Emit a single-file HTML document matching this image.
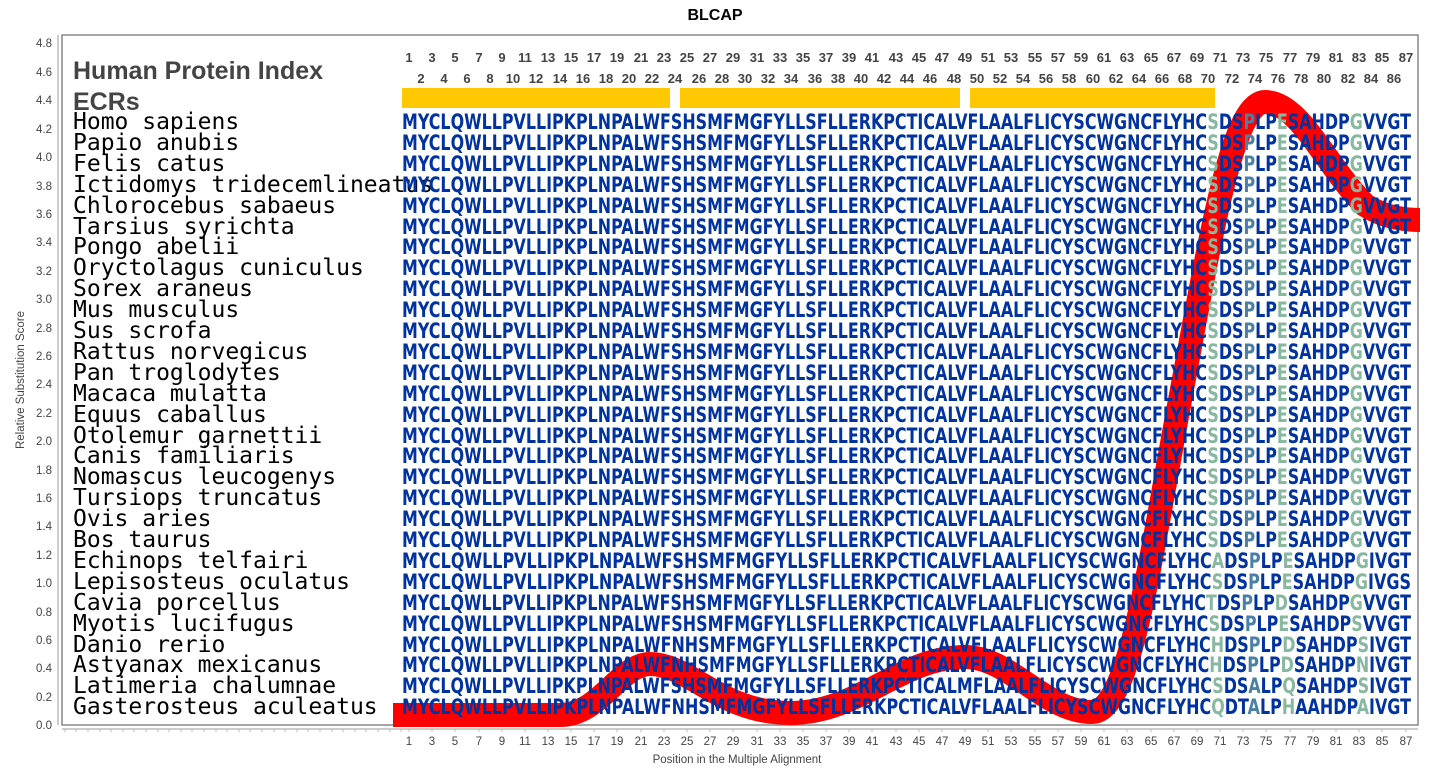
<!DOCTYPE html>
<html><head><meta charset="utf-8"><style>
html,body{margin:0;padding:0;background:#fff}
svg{display:block}
.n{font-family:"Liberation Sans",sans-serif;font-weight:bold;font-size:13px;fill:#444}
.sp{font-family:"DejaVu Sans Mono","Liberation Mono",monospace;font-size:23px;fill:#000}
.sq{font-family:"DejaVu Sans","Liberation Sans",sans-serif;font-weight:bold;font-size:21px;fill:#0033a0}
.l{fill:#88b8a0}.m{fill:#4a80a6}
.ax{font-family:"Liberation Sans",sans-serif;font-size:11.5px;fill:#444}
</style></head><body>
<svg width="1430" height="775" viewBox="0 0 1430 775">
<text x="715" y="20" text-anchor="middle" font-family="Liberation Sans,sans-serif" font-weight="bold" font-size="16" fill="#000">BLCAP</text>
<rect x="62" y="35" width="1356" height="690" fill="#fff" stroke="#888" stroke-width="1.5"/>
<line x1="58" y1="35" x2="58" y2="725" stroke="#999"/>
<g class="ax" text-anchor="end">
<text x="52" y="729">0.0</text><text x="52" y="701">0.2</text><text x="52" y="672">0.4</text><text x="52" y="644">0.6</text><text x="52" y="616">0.8</text><text x="52" y="587">1.0</text><text x="52" y="559">1.2</text><text x="52" y="530">1.4</text><text x="52" y="502">1.6</text><text x="52" y="474">1.8</text><text x="52" y="445">2.0</text><text x="52" y="417">2.2</text><text x="52" y="388">2.4</text><text x="52" y="360">2.6</text><text x="52" y="332">2.8</text><text x="52" y="303">3.0</text><text x="52" y="275">3.2</text><text x="52" y="246">3.4</text><text x="52" y="218">3.6</text><text x="52" y="190">3.8</text><text x="52" y="161">4.0</text><text x="52" y="133">4.2</text><text x="52" y="104">4.4</text><text x="52" y="76">4.6</text><text x="52" y="47">4.8</text>
</g>
<text transform="translate(24,380) rotate(-90)" text-anchor="middle" class="ax" font-size="12.5">Relative Substitution Score</text>
<line x1="62" y1="729" x2="1418" y2="729" stroke="#999"/>
<path d="M65,729v3M76,729v3M88,729v3M100,729v3M111,729v3M123,729v3M134,729v3M146,729v3M158,729v3M169,729v3M181,729v3M192,729v3M204,729v3M216,729v3M227,729v3M239,729v3M250,729v3M262,729v3M274,729v3M285,729v3M297,729v3M308,729v3M320,729v3M332,729v3M343,729v3M355,729v3M366,729v3M378,729v3M390,729v3M401,729v3M409,729v3M432,729v3M455,729v3M479,729v3M502,729v3M525,729v3M548,729v3M571,729v3M594,729v3M617,729v3M641,729v3M664,729v3M687,729v3M710,729v3M733,729v3M757,729v3M780,729v3M803,729v3M826,729v3M849,729v3M872,729v3M896,729v3M919,729v3M942,729v3M965,729v3M988,729v3M1011,729v3M1035,729v3M1058,729v3M1081,729v3M1104,729v3M1127,729v3M1151,729v3M1174,729v3M1197,729v3M1220,729v3M1243,729v3M1266,729v3M1290,729v3M1313,729v3M1336,729v3M1359,729v3M1382,729v3M1406,729v3" stroke="#bbb"/>
<g class="ax" text-anchor="middle">
<text x="409" y="745">1</text><text x="432" y="745">3</text><text x="455" y="745">5</text><text x="479" y="745">7</text><text x="502" y="745">9</text><text x="525" y="745">11</text><text x="548" y="745">13</text><text x="571" y="745">15</text><text x="594" y="745">17</text><text x="617" y="745">19</text><text x="641" y="745">21</text><text x="664" y="745">23</text><text x="687" y="745">25</text><text x="710" y="745">27</text><text x="733" y="745">29</text><text x="757" y="745">31</text><text x="780" y="745">33</text><text x="803" y="745">35</text><text x="826" y="745">37</text><text x="849" y="745">39</text><text x="872" y="745">41</text><text x="896" y="745">43</text><text x="919" y="745">45</text><text x="942" y="745">47</text><text x="965" y="745">49</text><text x="988" y="745">51</text><text x="1011" y="745">53</text><text x="1035" y="745">55</text><text x="1058" y="745">57</text><text x="1081" y="745">59</text><text x="1104" y="745">61</text><text x="1127" y="745">63</text><text x="1151" y="745">65</text><text x="1174" y="745">67</text><text x="1197" y="745">69</text><text x="1220" y="745">71</text><text x="1243" y="745">73</text><text x="1266" y="745">75</text><text x="1290" y="745">77</text><text x="1313" y="745">79</text><text x="1336" y="745">81</text><text x="1359" y="745">83</text><text x="1382" y="745">85</text><text x="1406" y="745">87</text>
</g>
<text x="737" y="763" text-anchor="middle" class="ax" font-size="13.5">Position in the Multiple Alignment</text>
<g class="n" text-anchor="middle">
<text x="409" y="62">1</text><text x="432" y="62">3</text><text x="455" y="62">5</text><text x="479" y="62">7</text><text x="502" y="62">9</text><text x="525" y="62">11</text><text x="548" y="62">13</text><text x="571" y="62">15</text><text x="594" y="62">17</text><text x="617" y="62">19</text><text x="641" y="62">21</text><text x="664" y="62">23</text><text x="687" y="62">25</text><text x="710" y="62">27</text><text x="733" y="62">29</text><text x="757" y="62">31</text><text x="780" y="62">33</text><text x="803" y="62">35</text><text x="826" y="62">37</text><text x="849" y="62">39</text><text x="872" y="62">41</text><text x="896" y="62">43</text><text x="919" y="62">45</text><text x="942" y="62">47</text><text x="965" y="62">49</text><text x="988" y="62">51</text><text x="1011" y="62">53</text><text x="1035" y="62">55</text><text x="1058" y="62">57</text><text x="1081" y="62">59</text><text x="1104" y="62">61</text><text x="1127" y="62">63</text><text x="1151" y="62">65</text><text x="1174" y="62">67</text><text x="1197" y="62">69</text><text x="1220" y="62">71</text><text x="1243" y="62">73</text><text x="1266" y="62">75</text><text x="1290" y="62">77</text><text x="1313" y="62">79</text><text x="1336" y="62">81</text><text x="1359" y="62">83</text><text x="1382" y="62">85</text><text x="1406" y="62">87</text>
<text x="421" y="83">2</text><text x="444" y="83">4</text><text x="467" y="83">6</text><text x="490" y="83">8</text><text x="513" y="83">10</text><text x="536" y="83">12</text><text x="560" y="83">14</text><text x="583" y="83">16</text><text x="606" y="83">18</text><text x="629" y="83">20</text><text x="652" y="83">22</text><text x="675" y="83">24</text><text x="699" y="83">26</text><text x="722" y="83">28</text><text x="745" y="83">30</text><text x="768" y="83">32</text><text x="791" y="83">34</text><text x="815" y="83">36</text><text x="838" y="83">38</text><text x="861" y="83">40</text><text x="884" y="83">42</text><text x="907" y="83">44</text><text x="930" y="83">46</text><text x="954" y="83">48</text><text x="977" y="83">50</text><text x="1000" y="83">52</text><text x="1023" y="83">54</text><text x="1046" y="83">56</text><text x="1069" y="83">58</text><text x="1093" y="83">60</text><text x="1116" y="83">62</text><text x="1139" y="83">64</text><text x="1162" y="83">66</text><text x="1185" y="83">68</text><text x="1208" y="83">70</text><text x="1232" y="83">72</text><text x="1255" y="83">74</text><text x="1278" y="83">76</text><text x="1301" y="83">78</text><text x="1324" y="83">80</text><text x="1348" y="83">82</text><text x="1371" y="83">84</text><text x="1394" y="83">86</text>
</g>
<rect x="402" y="88" width="268" height="20" fill="#ffc800"/>
<rect x="680" y="88" width="280" height="20" fill="#ffc800"/>
<rect x="970" y="88" width="245" height="20" fill="#ffc800"/>
<text x="73" y="79" font-family="Liberation Sans,sans-serif" font-weight="bold" font-size="25" fill="#444">Human Protein Index</text>
<text x="73" y="110" font-family="Liberation Sans,sans-serif" font-weight="bold" font-size="25" fill="#444">ECRs</text>
<path d="M393,715 L560,715 C600,715 620,664 650,664 C690,664 720,713 790,713 C860,713 900,657 965,657 C1010,657 1045,712 1092,712 C1130,712 1150,560 1180,400 C1210,240 1232,102 1265,102 C1300,102 1325,165 1365,205 C1385,218 1405,220 1420,220" fill="none" stroke="#ff0000" stroke-width="24"/>
<g class="sp">
<text x="73" y="129">Homo sapiens</text><text x="73" y="150">Papio anubis</text><text x="73" y="171">Felis catus</text><text x="73" y="192">Ictidomys tridecemlineatus</text><text x="73" y="213">Chlorocebus sabaeus</text><text x="73" y="234">Tarsius syrichta</text><text x="73" y="254">Pongo abelii</text><text x="73" y="275">Oryctolagus cuniculus</text><text x="73" y="296">Sorex araneus</text><text x="73" y="317">Mus musculus</text><text x="73" y="338">Sus scrofa</text><text x="73" y="359">Rattus norvegicus</text><text x="73" y="380">Pan troglodytes</text><text x="73" y="401">Macaca mulatta</text><text x="73" y="422">Equus caballus</text><text x="73" y="443">Otolemur garnettii</text><text x="73" y="463">Canis familiaris</text><text x="73" y="484">Nomascus leucogenys</text><text x="73" y="505">Tursiops truncatus</text><text x="73" y="526">Ovis aries</text><text x="73" y="547">Bos taurus</text><text x="73" y="568">Echinops telfairi</text><text x="73" y="589">Lepisosteus oculatus</text><text x="73" y="610">Cavia porcellus</text><text x="73" y="631">Myotis lucifugus</text><text x="73" y="652">Danio rerio</text><text x="73" y="672">Astyanax mexicanus</text><text x="73" y="693">Latimeria chalumnae</text><text x="73" y="714">Gasterosteus aculeatus</text>
</g>
<g class="sq">
<text x="402" y="129" textLength="1009" lengthAdjust="spacingAndGlyphs">MYCLQWLLPVLLIPKPLNPALWFSHSMFMGFYLLSFLLERKPCTICALVFLAALFLICYSCWGNCFLYHC<tspan class="l">S</tspan>DS<tspan class="m">P</tspan>LP<tspan class="l">E</tspan>SAHDP<tspan class="l">G</tspan>VVGT</text>
<text x="402" y="150" textLength="1009" lengthAdjust="spacingAndGlyphs">MYCLQWLLPVLLIPKPLNPALWFSHSMFMGFYLLSFLLERKPCTICALVFLAALFLICYSCWGNCFLYHC<tspan class="l">S</tspan>DS<tspan class="m">P</tspan>LP<tspan class="l">E</tspan>SAHDP<tspan class="l">G</tspan>VVGT</text>
<text x="402" y="171" textLength="1009" lengthAdjust="spacingAndGlyphs">MYCLQWLLPVLLIPKPLNPALWFSHSMFMGFYLLSFLLERKPCTICALVFLAALFLICYSCWGNCFLYHC<tspan class="l">S</tspan>DS<tspan class="m">P</tspan>LP<tspan class="l">E</tspan>SAHDP<tspan class="l">G</tspan>VVGT</text>
<text x="402" y="192" textLength="1009" lengthAdjust="spacingAndGlyphs">MYCLQWLLPVLLIPKPLNPALWFSHSMFMGFYLLSFLLERKPCTICALVFLAALFLICYSCWGNCFLYHC<tspan class="l">S</tspan>DS<tspan class="m">P</tspan>LP<tspan class="l">E</tspan>SAHDP<tspan class="l">G</tspan>VVGT</text>
<text x="402" y="213" textLength="1009" lengthAdjust="spacingAndGlyphs">MYCLQWLLPVLLIPKPLNPALWFSHSMFMGFYLLSFLLERKPCTICALVFLAALFLICYSCWGNCFLYHC<tspan class="l">S</tspan>DS<tspan class="m">P</tspan>LP<tspan class="l">E</tspan>SAHDP<tspan class="l">G</tspan>VVGT</text>
<text x="402" y="234" textLength="1009" lengthAdjust="spacingAndGlyphs">MYCLQWLLPVLLIPKPLNPALWFSHSMFMGFYLLSFLLERKPCTICALVFLAALFLICYSCWGNCFLYHC<tspan class="l">S</tspan>DS<tspan class="m">P</tspan>LP<tspan class="l">E</tspan>SAHDP<tspan class="l">G</tspan>VVGT</text>
<text x="402" y="254" textLength="1009" lengthAdjust="spacingAndGlyphs">MYCLQWLLPVLLIPKPLNPALWFSHSMFMGFYLLSFLLERKPCTICALVFLAALFLICYSCWGNCFLYHC<tspan class="l">S</tspan>DS<tspan class="m">P</tspan>LP<tspan class="l">E</tspan>SAHDP<tspan class="l">G</tspan>VVGT</text>
<text x="402" y="275" textLength="1009" lengthAdjust="spacingAndGlyphs">MYCLQWLLPVLLIPKPLNPALWFSHSMFMGFYLLSFLLERKPCTICALVFLAALFLICYSCWGNCFLYHC<tspan class="l">S</tspan>DS<tspan class="m">P</tspan>LP<tspan class="l">E</tspan>SAHDP<tspan class="l">G</tspan>VVGT</text>
<text x="402" y="296" textLength="1009" lengthAdjust="spacingAndGlyphs">MYCLQWLLPVLLIPKPLNPALWFSHSMFMGFYLLSFLLERKPCTICALVFLAALFLICYSCWGNCFLYHC<tspan class="l">S</tspan>DS<tspan class="m">P</tspan>LP<tspan class="l">E</tspan>SAHDP<tspan class="l">G</tspan>VVGT</text>
<text x="402" y="317" textLength="1009" lengthAdjust="spacingAndGlyphs">MYCLQWLLPVLLIPKPLNPALWFSHSMFMGFYLLSFLLERKPCTICALVFLAALFLICYSCWGNCFLYHC<tspan class="l">S</tspan>DS<tspan class="m">P</tspan>LP<tspan class="l">E</tspan>SAHDP<tspan class="l">G</tspan>VVGT</text>
<text x="402" y="338" textLength="1009" lengthAdjust="spacingAndGlyphs">MYCLQWLLPVLLIPKPLNPALWFSHSMFMGFYLLSFLLERKPCTICALVFLAALFLICYSCWGNCFLYHC<tspan class="l">S</tspan>DS<tspan class="m">P</tspan>LP<tspan class="l">E</tspan>SAHDP<tspan class="l">G</tspan>VVGT</text>
<text x="402" y="359" textLength="1009" lengthAdjust="spacingAndGlyphs">MYCLQWLLPVLLIPKPLNPALWFSHSMFMGFYLLSFLLERKPCTICALVFLAALFLICYSCWGNCFLYHC<tspan class="l">S</tspan>DS<tspan class="m">P</tspan>LP<tspan class="l">E</tspan>SAHDP<tspan class="l">G</tspan>VVGT</text>
<text x="402" y="380" textLength="1009" lengthAdjust="spacingAndGlyphs">MYCLQWLLPVLLIPKPLNPALWFSHSMFMGFYLLSFLLERKPCTICALVFLAALFLICYSCWGNCFLYHC<tspan class="l">S</tspan>DS<tspan class="m">P</tspan>LP<tspan class="l">E</tspan>SAHDP<tspan class="l">G</tspan>VVGT</text>
<text x="402" y="401" textLength="1009" lengthAdjust="spacingAndGlyphs">MYCLQWLLPVLLIPKPLNPALWFSHSMFMGFYLLSFLLERKPCTICALVFLAALFLICYSCWGNCFLYHC<tspan class="l">S</tspan>DS<tspan class="m">P</tspan>LP<tspan class="l">E</tspan>SAHDP<tspan class="l">G</tspan>VVGT</text>
<text x="402" y="422" textLength="1009" lengthAdjust="spacingAndGlyphs">MYCLQWLLPVLLIPKPLNPALWFSHSMFMGFYLLSFLLERKPCTICALVFLAALFLICYSCWGNCFLYHC<tspan class="l">S</tspan>DS<tspan class="m">P</tspan>LP<tspan class="l">E</tspan>SAHDP<tspan class="l">G</tspan>VVGT</text>
<text x="402" y="443" textLength="1009" lengthAdjust="spacingAndGlyphs">MYCLQWLLPVLLIPKPLNPALWFSHSMFMGFYLLSFLLERKPCTICALVFLAALFLICYSCWGNCFLYHC<tspan class="l">S</tspan>DS<tspan class="m">P</tspan>LP<tspan class="l">E</tspan>SAHDP<tspan class="l">G</tspan>VVGT</text>
<text x="402" y="463" textLength="1009" lengthAdjust="spacingAndGlyphs">MYCLQWLLPVLLIPKPLNPALWFSHSMFMGFYLLSFLLERKPCTICALVFLAALFLICYSCWGNCFLYHC<tspan class="l">S</tspan>DS<tspan class="m">P</tspan>LP<tspan class="l">E</tspan>SAHDP<tspan class="l">G</tspan>VVGT</text>
<text x="402" y="484" textLength="1009" lengthAdjust="spacingAndGlyphs">MYCLQWLLPVLLIPKPLNPALWFSHSMFMGFYLLSFLLERKPCTICALVFLAALFLICYSCWGNCFLYHC<tspan class="l">S</tspan>DS<tspan class="m">P</tspan>LP<tspan class="l">E</tspan>SAHDP<tspan class="l">G</tspan>VVGT</text>
<text x="402" y="505" textLength="1009" lengthAdjust="spacingAndGlyphs">MYCLQWLLPVLLIPKPLNPALWFSHSMFMGFYLLSFLLERKPCTICALVFLAALFLICYSCWGNCFLYHC<tspan class="l">S</tspan>DS<tspan class="m">P</tspan>LP<tspan class="l">E</tspan>SAHDP<tspan class="l">G</tspan>VVGT</text>
<text x="402" y="526" textLength="1009" lengthAdjust="spacingAndGlyphs">MYCLQWLLPVLLIPKPLNPALWFSHSMFMGFYLLSFLLERKPCTICALVFLAALFLICYSCWGNCFLYHC<tspan class="l">S</tspan>DS<tspan class="m">P</tspan>LP<tspan class="l">E</tspan>SAHDP<tspan class="l">G</tspan>VVGT</text>
<text x="402" y="547" textLength="1009" lengthAdjust="spacingAndGlyphs">MYCLQWLLPVLLIPKPLNPALWFSHSMFMGFYLLSFLLERKPCTICALVFLAALFLICYSCWGNCFLYHC<tspan class="l">S</tspan>DS<tspan class="m">P</tspan>LP<tspan class="l">E</tspan>SAHDP<tspan class="l">G</tspan>VVGT</text>
<text x="402" y="568" textLength="1009" lengthAdjust="spacingAndGlyphs">MYCLQWLLPVLLIPKPLNPALWFSHSMFMGFYLLSFLLERKPCTICALVFLAALFLICYSCWGNCFLYHC<tspan class="l">A</tspan>DS<tspan class="m">P</tspan>LP<tspan class="l">E</tspan>SAHDP<tspan class="l">G</tspan>IVGT</text>
<text x="402" y="589" textLength="1009" lengthAdjust="spacingAndGlyphs">MYCLQWLLPVLLIPKPLNPALWFSHSMFMGFYLLSFLLERKPCTICALVFLAALFLICYSCWGNCFLYHC<tspan class="l">S</tspan>DS<tspan class="m">P</tspan>LP<tspan class="l">E</tspan>SAHDP<tspan class="l">G</tspan>IVGS</text>
<text x="402" y="610" textLength="1009" lengthAdjust="spacingAndGlyphs">MYCLQWLLPVLLIPKPLNPALWFSHSMFMGFYLLSFLLERKPCTICALVFLAALFLICYSCWGNCFLYHC<tspan class="l">T</tspan>DS<tspan class="m">P</tspan>LP<tspan class="l">D</tspan>SAHDP<tspan class="l">G</tspan>VVGT</text>
<text x="402" y="631" textLength="1009" lengthAdjust="spacingAndGlyphs">MYCLQWLLPVLLIPKPLNPALWFSHSMFMGFYLLSFLLERKPCTICALVFLAALFLICYSCWGNCFLYHC<tspan class="l">S</tspan>DS<tspan class="m">P</tspan>LP<tspan class="l">E</tspan>SAHDP<tspan class="l">S</tspan>VVGT</text>
<text x="402" y="652" textLength="1009" lengthAdjust="spacingAndGlyphs">MYCLQWLLPVLLIPKPLNPALWFNHSMFMGFYLLSFLLERKPCTICALVFLAALFLICYSCWGNCFLYHC<tspan class="l">H</tspan>DS<tspan class="m">P</tspan>LP<tspan class="l">D</tspan>SAHDP<tspan class="l">S</tspan>IVGT</text>
<text x="402" y="672" textLength="1009" lengthAdjust="spacingAndGlyphs">MYCLQWLLPVLLIPKPLNPALWFNHSMFMGFYLLSFLLERKPCTICALVFLAALFLICYSCWGNCFLYHC<tspan class="l">H</tspan>DS<tspan class="m">P</tspan>LP<tspan class="l">D</tspan>SAHDP<tspan class="l">N</tspan>IVGT</text>
<text x="402" y="693" textLength="1009" lengthAdjust="spacingAndGlyphs">MYCLQWLLPVLLIPKPLNPALWFSHSMFMGFYLLSFLLERKPCTICALMFLAALFLICYSCWGNCFLYHC<tspan class="l">S</tspan>DS<tspan class="m">A</tspan>LP<tspan class="l">Q</tspan>SAHDP<tspan class="l">S</tspan>IVGT</text>
<text x="402" y="714" textLength="1009" lengthAdjust="spacingAndGlyphs">MYCLQWLLPVLLIPKPLNPALWFNHSMFMGFYLLSFLLERKPCTICALVFLAALFLICYSCWGNCFLYHC<tspan class="l">Q</tspan>DT<tspan class="m">A</tspan>LP<tspan class="l">H</tspan>AAHDP<tspan class="l">A</tspan>IVGT</text>
</g>
</svg>
</body></html>
